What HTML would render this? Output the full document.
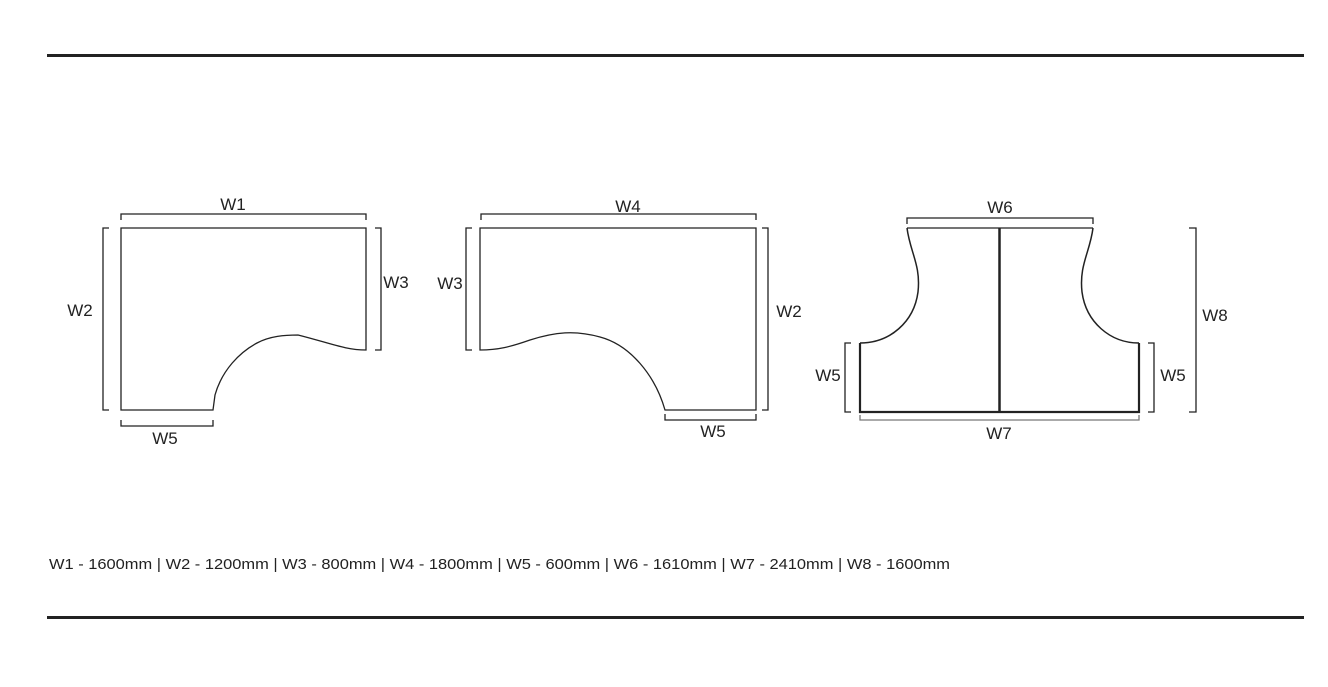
<!DOCTYPE html>
<html><head><meta charset="utf-8"><style>
html,body{margin:0;padding:0;background:#fff;}
svg{display:block;}
text{font-family:"Liberation Sans",Arial,sans-serif;fill:#222;}
</style></head><body>
<svg width="1328" height="687" viewBox="0 0 1328 687" xmlns="http://www.w3.org/2000/svg">
<rect x="47" y="54" width="1257" height="3" fill="#222"/>
<rect x="47" y="616" width="1257" height="3" fill="#222"/>

<g fill="none" stroke="#222" stroke-width="1.3">
<!-- shape 1 -->
<path d="M213,410 L121,410 L121,228 L366,228 L366,350 C345,350 330,343 298,335 C285,335 270,336 257,343 C240,352 222,370 215,395 Z"/>
<path d="M121,220 V214 H366 V220"/>
<path d="M109,228 H103 V410 H109"/>
<path d="M375,228 H381 V350 H375"/>
<path d="M121,420 V426 H213 V420"/>
<!-- shape 2 -->
<path d="M480,350 L480,228 L756,228 L756,410 L665,410 C655,375 630,345 600,337 C575,330 555,332 530,340 C510,347 498,350 480,350 Z"/>
<path d="M481,220 V214 H756 V220"/>
<path d="M472,228 H466 V350 H472"/>
<path d="M762,228 H768 V410 H762"/>
<path d="M665,414 V420 H756 V414"/>
<!-- shape 3 brackets -->
<path d="M907,224 V218 H1093 V224"/>
<path d="M851,343 H845 V412 H851" />
<path d="M1148,343 H1154 V412 H1148"/>
<path d="M1189,228 H1196 V412 H1189"/>
<path d="M860,415 V420 H1139 V415" stroke="#777"/>
</g>
<g fill="none" stroke="#222">
<path d="M907,228 H1093" stroke-width="1.3"/>
<path d="M907,228 C910,252 921,265 918,292 C914,322 890,343 860,343" stroke-width="1.5"/>
<path d="M1093,228 C1090,252 1079,265 1082,292 C1086,322 1110,343 1139,343" stroke-width="1.5"/>
<path d="M860,343 V412 H1139 V343" stroke-width="2.2"/>
<path d="M999.5,228 V412" stroke-width="2.5"/>
</g>

<g font-size="17" text-anchor="middle">
<text x="233" y="210">W1</text>
<text x="80" y="316">W2</text>
<text x="396" y="288">W3</text>
<text x="165" y="444">W5</text>
<text x="628" y="212">W4</text>
<text x="450" y="289">W3</text>
<text x="789" y="317">W2</text>
<text x="713" y="437">W5</text>
<text x="1000" y="213">W6</text>
<text x="999" y="439">W7</text>
<text x="828" y="381">W5</text>
<text x="1173" y="381">W5</text>
<text x="1215" y="321">W8</text>
</g>
<text x="49" y="569" font-size="15" fill="#333" textLength="901" lengthAdjust="spacingAndGlyphs">W1 - 1600mm | W2 - 1200mm | W3 - 800mm | W4 - 1800mm | W5 - 600mm | W6 - 1610mm | W7 - 2410mm | W8 - 1600mm</text>
</svg>
</body></html>
